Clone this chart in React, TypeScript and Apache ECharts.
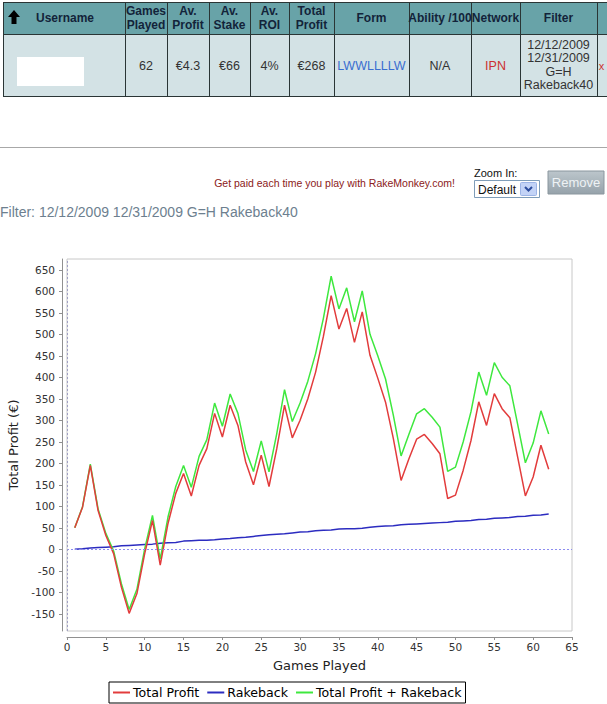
import React, { useEffect, useRef } from "react";
import * as echarts from "echarts";

const games = [1,2,3,4,5,6,7,8,9,10,11,12,13,14,15,16,17,18,19,20,21,22,23,24,25,26,27,28,29,30,31,32,33,34,35,36,37,38,39,40,41,42,43,44,45,46,47,48,49,50,51,52,53,54,55,56,57,58,59,60,61,62];
const totalProfit = [50,98,195,90,32,-10,-88,-149,-103,-10,67,-37,60,130,176,124,195,234,316,261,335,288,203,150,219,146,234,335,259,300,350,412,495,590,512,560,481,552,451,398,342,258,160,210,256,267,246,222,118,126,184,253,343,288,362,327,306,215,124,168,242,186];
const rakeback = [0,1,3,4,5,6,8,9,10,11,12,14,15,16,19,20,21,21,22,24,25,27,28,30,32,34,35,36,38,40,41,43,44,45,47,48,48,49,51,53,54,55,57,58,59,60,61,62,63,65,66,67,69,70,72,73,74,76,77,79,80,82];
const profitPlusRakeback = [50,99,198,94,37,-4,-80,-140,-93,1,79,-23,75,146,195,144,216,255,340,286,361,316,231,181,252,180,269,371,297,340,391,455,537,635,559,608,529,601,500,450,396,312,217,267,315,327,307,284,181,191,250,320,412,358,434,400,380,291,201,247,322,268];
const yTicks = [-150,-100,-50,0,50,100,150,200,250,300,350,400,450,500,550,600,650];
const seriesNames = ["Total Profit", "Rakeback", "Total Profit + Rakeback"];
const seriesColors = ["#e23c3c", "#2c2cc0", "#3ee83e"];

const headerLabels = [
  { lines: ["Username"], cx: 65 },
  { lines: ["Games", "Played"], cx: 146 },
  { lines: ["Av.", "Profit"], cx: 188 },
  { lines: ["Av.", "Stake"], cx: 229.5 },
  { lines: ["Av.", "ROI"], cx: 269.5 },
  { lines: ["Total", "Profit"], cx: 311.5 },
  { lines: ["Form"], cx: 371.5 },
  { lines: ["Ability /100"], cx: 440 },
  { lines: ["Network"], cx: 495.5 },
  { lines: ["Filter"], cx: 558.5 },
];
const rowValues = [
  { text: "62", cx: 146, color: "#333" },
  { text: "€4.3", cx: 188, color: "#333" },
  { text: "€66", cx: 229.5, color: "#333" },
  { text: "4%", cx: 269.5, color: "#333" },
  { text: "€268", cx: 311.5, color: "#333" },
  { text: "LWWLLLLW", cx: 371.5, color: "#3a6ed0" },
  { text: "N/A", cx: 440, color: "#333" },
  { text: "IPN", cx: 495.5, color: "#cc3030" },
];
const filterLines = ["12/12/2009", "12/31/2009", "G=H", "Rakeback40"];
const colLines = [3, 125, 167, 209, 250, 289, 334, 409, 471, 520, 597];

function txt(text: string, x: number, y: number, font: string, fill: string, align = "center", valign = "middle") {
  return {
    type: "text",
    silent: true,
    style: { text, x, y, font, fill, align, verticalAlign: valign, textAlign: align, textVerticalAlign: valign },
  };
}

export default function App() {
  const ref = useRef<HTMLDivElement>(null);
  useEffect(() => {
    if (!ref.current) return;
    const chart = echarts.init(ref.current, null, { renderer: "svg" });
    const graphics: any[] = [];
    graphics.push({ type: "rect", shape: { x: 3, y: 2, width: 604, height: 32 }, style: { fill: "#68a3a8" }, silent: true });
    graphics.push({ type: "rect", shape: { x: 3, y: 34, width: 604, height: 62 }, style: { fill: "#d3e2e5" }, silent: true });
    [2.5, 34.5, 96.5].forEach((y) =>
      graphics.push({ type: "line", shape: { x1: 3, y1: y, x2: 607, y2: y }, style: { stroke: "#2a3535", lineWidth: 1 }, silent: true })
    );
    colLines.forEach((x) =>
      graphics.push({ type: "line", shape: { x1: x + 0.5, y1: 2, x2: x + 0.5, y2: 97 }, style: { stroke: "#2a3535", lineWidth: 1 }, silent: true })
    );
    graphics.push({
      type: "polygon",
      shape: { points: [[14, 10], [20, 17], [16.5, 17], [16.5, 24], [11.5, 24], [11.5, 17], [8, 17]] },
      style: { fill: "#000" },
      silent: true,
    });
    const hFont = "bold 12px 'Liberation Sans', Arial, sans-serif";
    headerLabels.forEach((h) => {
      if (h.lines.length === 1) {
        graphics.push(txt(h.lines[0], h.cx, 18, hFont, "#13233a"));
      } else {
        graphics.push(txt(h.lines[0], h.cx, 10.5, hFont, "#13233a"));
        graphics.push(txt(h.lines[1], h.cx, 25, hFont, "#13233a"));
      }
    });
    graphics.push({ type: "rect", shape: { x: 17, y: 57, width: 67, height: 29 }, style: { fill: "#fff" }, silent: true });
    rowValues.forEach((v) => graphics.push(txt(v.text, v.cx, 66, "12.5px 'Liberation Sans', Arial, sans-serif", v.color)));
    filterLines.forEach((t, i) => graphics.push(txt(t, 558.5, 44.5 + i * 13.6, "12.5px 'Liberation Sans', Arial, sans-serif", "#333")));
    graphics.push(txt("x", 601.5, 66, "11px 'Liberation Sans', Arial, sans-serif", "#cc3030"));

    graphics.push({ type: "line", shape: { x1: 0, y1: 147.5, x2: 607, y2: 147.5 }, style: { stroke: "#a8a8a8", lineWidth: 1 }, silent: true });
    graphics.push(txt("Get paid each time you play with RakeMonkey.com!", 455, 183, "10.5px 'Liberation Sans', Arial, sans-serif", "#8b2020", "right"));
    graphics.push(txt("Zoom In:", 474, 173, "11px 'Liberation Sans', Arial, sans-serif", "#111", "left"));
    graphics.push({ type: "rect", shape: { x: 474.5, y: 180.5, width: 65, height: 17 }, style: { fill: "#fff", stroke: "#7f9db9", lineWidth: 1 }, silent: true });
    graphics.push(txt("Default", 478, 189.5, "12px 'Liberation Sans', Arial, sans-serif", "#111", "left"));
    graphics.push({ type: "rect", shape: { x: 520.5, y: 182.5, width: 16, height: 13, r: 1 }, style: { fill: "#c3d3f6", stroke: "#9cb4e6", lineWidth: 1 }, silent: true });
    graphics.push({ type: "polyline", shape: { points: [[525, 187], [528.5, 190.5], [532, 187]] }, style: { stroke: "#2d4d9e", lineWidth: 2, fill: null }, silent: true });
    graphics.push({
      type: "rect",
      shape: { x: 548, y: 171, width: 56, height: 23 },
      style: {
        fill: new echarts.graphic.LinearGradient(0, 0, 0, 1, [
          { offset: 0, color: "#bcc6cc" },
          { offset: 1, color: "#96a2aa" },
        ]),
        stroke: "#8a969e",
        lineWidth: 1,
      },
      silent: true,
    });
    graphics.push(txt("Remove", 576, 182.5, "13px 'Liberation Sans', Arial, sans-serif", "#eef2f5"));
    graphics.push(txt("Filter: 12/12/2009 12/31/2009 G=H Rakeback40", 0, 212, "14px 'Liberation Sans', Arial, sans-serif", "#6d7f8f", "left"));

    const dataOf = (arr: number[]) => games.map((g, i) => [g, arr[i]]);
    const font = "'DejaVu Sans', sans-serif";

    chart.setOption({
      animation: false,
      backgroundColor: "#fff",
      graphic: { elements: graphics },
      grid: {
        left: 67,
        right: 35,
        top: 259,
        bottom: 73,
        show: true,
        borderColor: "#c8c8c8",
        borderWidth: 1,
        backgroundColor: "#fff",
        containLabel: false,
        outerBoundsMode: "none",
      },
      legend: {
        left: 109,
        top: 682,
        orient: "horizontal",
        borderColor: "#000",
        borderWidth: 1,
        padding: [4, 4, 4, 4],
        itemGap: 8,
        itemWidth: 17,
        itemHeight: 2,
        icon: "rect",
        data: seriesNames,
        textStyle: { fontFamily: font, fontSize: 12.6, color: "#000", padding: [0, 0, 0, -2] },
      },
      xAxis: {
        type: "value",
        min: 0,
        max: 65,
        interval: 5,
        offset: 6,
        name: "Games Played",
        nameLocation: "middle",
        nameGap: 22,
        nameTextStyle: { fontFamily: font, fontSize: 13, color: "#222" },
        axisLine: { show: true, onZero: false, lineStyle: { color: "#909090", width: 1 } },
        axisTick: { show: true, length: 3, inside: false, lineStyle: { color: "#909090" } },
        axisLabel: { fontFamily: font, fontSize: 10.5, color: "#333", margin: 4 },
        splitLine: { show: false },
      },
      yAxis: {
        type: "value",
        min: -190,
        max: 675,
        offset: 5,
        name: "Total Profit (€)",
        nameLocation: "middle",
        nameGap: 40,
        nameRotate: 90,
        nameTextStyle: { fontFamily: font, fontSize: 13, color: "#222" },
        axisLine: { show: true, onZero: false, lineStyle: { color: "#909090", width: 1 } },
        axisTick: { show: true, length: 3, inside: false, customValues: yTicks, lineStyle: { color: "#909090" } },
        axisLabel: { fontFamily: font, fontSize: 10.5, color: "#333", margin: 7, customValues: yTicks },
        splitLine: { show: false },
      },
      series: [
        {
          name: seriesNames[0],
          type: "line",
          data: dataOf(totalProfit),
          showSymbol: false,
          color: seriesColors[0],
          lineStyle: { color: seriesColors[0], width: 1.5 },
          z: 3,
        },
        {
          name: seriesNames[1],
          type: "line",
          data: dataOf(rakeback),
          showSymbol: false,
          color: seriesColors[1],
          lineStyle: { color: seriesColors[1], width: 1.5 },
          z: 2,
          markLine: {
            silent: true,
            symbol: "none",
            label: { show: false },
            lineStyle: { color: "#8c8cf0", type: [2, 2], width: 1 },
            data: [
              { yAxis: 0, lineStyle: { color: "#8c8cf0", type: [2, 2], width: 1 } },
              { xAxis: 0, lineStyle: { color: "#a0a0c4", type: [2, 2], width: 1 } },
            ],
          },
        },
        {
          name: seriesNames[2],
          type: "line",
          data: dataOf(profitPlusRakeback),
          showSymbol: false,
          color: seriesColors[2],
          lineStyle: { color: seriesColors[2], width: 1.5 },
          z: 2,
        },
      ],
    });
    return () => chart.dispose();
  }, []);
  return <div ref={ref} style={{ position: "fixed", left: 0, top: 0, width: 607, height: 704 }} />;
}
